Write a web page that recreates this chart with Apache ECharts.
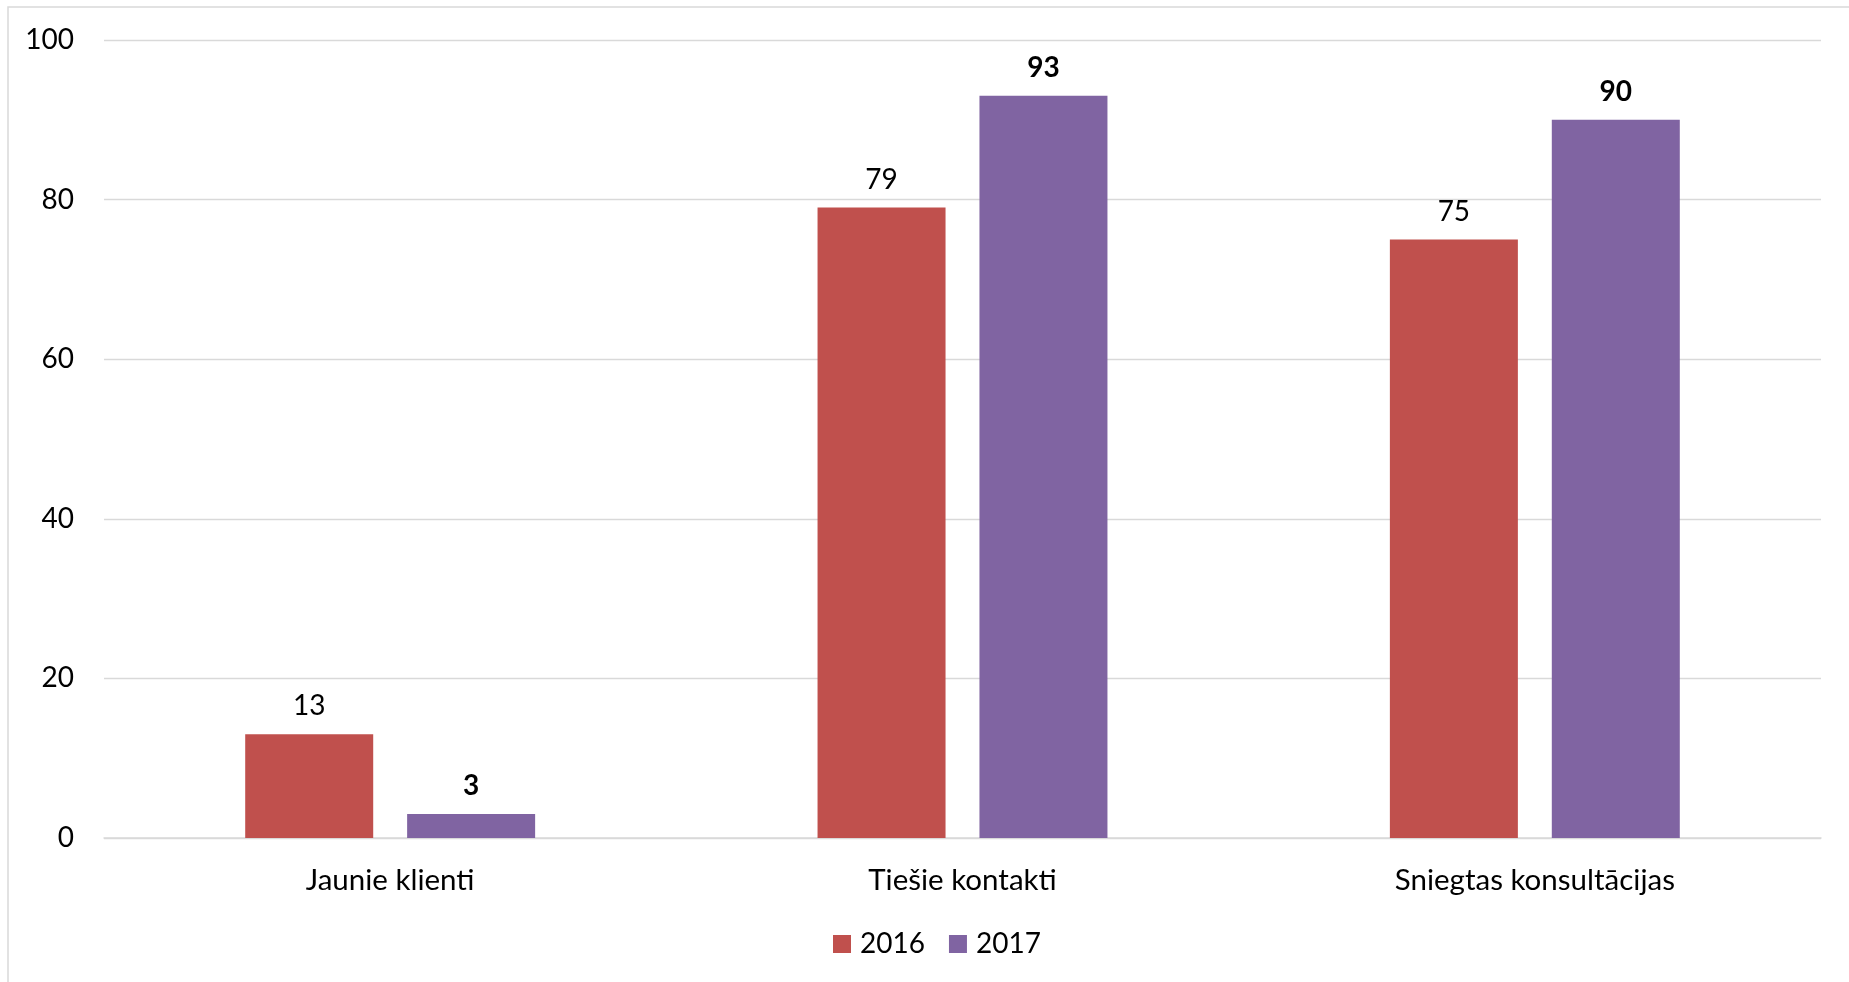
<!DOCTYPE html>
<html>
<head>
<meta charset="utf-8">
<script src="https://cdn.jsdelivr.net/npm/echarts@6/dist/echarts.min.js"></script>
<style>
html,body{margin:0;padding:0;background:#fff;}
#chart{width:1849px;height:982px;}
</style>
</head>
<body>
<div id="chart"></div>
<script>
const categories = ['Jaunie klienti', 'Tiešie kontakti', 'Sniegtas konsultācijas'];
const seriesNames = ['2016', '2017'];
const values2016 = [13, 79, 75];
const values2017 = [3, 93, 90];
const yTicks = [0, 20, 40, 60, 80, 100];

const FONT = 'Lato';
const chart = echarts.init(document.getElementById('chart'));
chart.setOption({
  backgroundColor: '#ffffff',
  animation: false,
  textStyle: { fontFamily: FONT },
  graphic: [{
    type: 'rect', silent: true, z: -1,
    shape: { x: 8, y: 7, width: 1900, height: 1000 },
    style: { fill: 'none', stroke: '#d9d9d9', lineWidth: 1.5 }
  }],
  legend: {
    data: seriesNames,
    left: 828, top: 925,
    itemWidth: 18, itemHeight: 18, itemGap: 24,
    icon: 'rect',
    textStyle: { fontFamily: FONT, fontSize: 28, color: '#000', padding: [0, 0, 0, 4] }
  },
  grid: { left: 104, right: 28, top: 40, bottom: 144, containLabel: false },
  xAxis: {
    type: 'category', data: categories,
    axisLine: { show: true, lineStyle: { color: '#d9d9d9', width: 1.5 } },
    axisTick: { show: false },
    axisLabel: { fontFamily: FONT, fontSize: 29.5, color: '#000', margin: 27 }
  },
  yAxis: {
    type: 'value', min: yTicks[0], max: yTicks[yTicks.length - 1], interval: 20,
    axisLine: { show: false }, axisTick: { show: false },
    splitLine: { lineStyle: { color: '#d9d9d9', width: 1.3 } },
    axisLabel: { fontFamily: FONT, fontSize: 28, color: '#000', margin: 30 }
  },
  series: [
    {
      name: seriesNames[0], type: 'bar', data: values2016,
      barWidth: 128, barGap: '26.5%',
      itemStyle: { color: '#C0504D' },
      label: { show: true, position: 'top', distance: 14, fontFamily: FONT, fontSize: 28, color: '#000' }
    },
    {
      name: seriesNames[1], type: 'bar', data: values2017,
      barWidth: 128,
      itemStyle: { color: '#8064A2' },
      label: { show: true, position: 'top', distance: 14, fontFamily: FONT, fontSize: 28, fontWeight: 'bold', color: '#000' }
    }
  ]
});
</script>
</body>
</html>
